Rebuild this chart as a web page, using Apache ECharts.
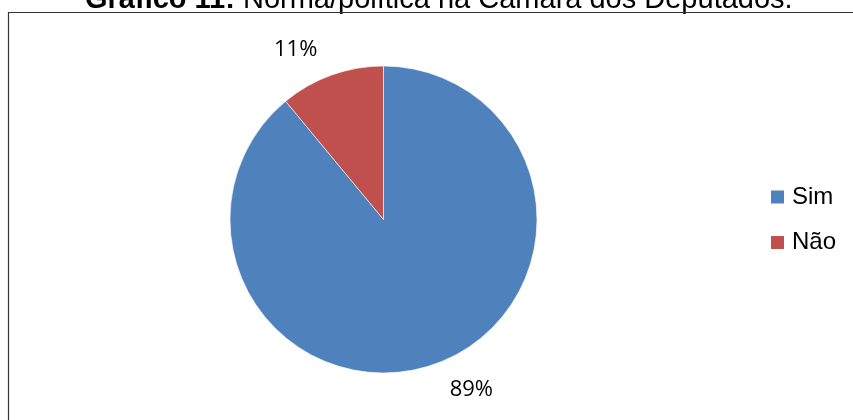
<!DOCTYPE html>
<html>
<head>
<meta charset="utf-8">
<script src="https://cdn.jsdelivr.net/npm/echarts@6/dist/echarts.min.js"></script>
<style>html,body{margin:0;padding:0;background:#fff;}#c{width:853px;height:420px;}</style>
</head>
<body>
<div id="c"></div>
<script>
const categories = ['Sim', 'Não'];
const values = [89, 11];
const colors = ['#4F81BD', '#C0504D'];

const chart = echarts.init(document.getElementById('c'));
chart.setOption({
  animation: false,
  backgroundColor: '#fff',
  title: {
    text: '{b|Gráfico 11:} Norma/política na Câmara dos Deputados.',
    left: 85,
    top: -15,
    padding: 0,
    textStyle: {
      fontFamily: 'Liberation Sans, Arial, sans-serif',
      fontSize: 29,
      fontWeight: 'normal',
      color: '#000',
      lineHeight: 29,
      rich: {
        b: { fontFamily: 'Liberation Sans, Arial, sans-serif', fontSize: 29, fontWeight: 'bold', color: '#000', lineHeight: 29 }
      }
    }
  },
  graphic: [{
    type: 'rect',
    shape: { x: 8.5, y: 12.5, width: 900, height: 500 },
    style: { fill: 'none', stroke: '#333', lineWidth: 1.2 },
    silent: true,
    z: 100
  }],
  legend: {
    orient: 'vertical',
    left: 771,
    top: 185,
    padding: 0,
    itemWidth: 13,
    itemHeight: 13,
    itemGap: 21.5,
    icon: 'rect',
    itemStyle: { borderWidth: 0 },
    textStyle: { fontFamily: 'Liberation Sans, Arial, sans-serif', fontSize: 24, color: '#000', padding: [0, 0, 0, 3] },
    data: categories
  },
  series: [{
    type: 'pie',
    center: [383.5, 219.5],
    radius: 153.5,
    startAngle: 90,
    clockwise: true,
    avoidLabelOverlap: false,
    itemStyle: { borderColor: '#fff', borderWidth: 0.6 },
    label: {
      show: true,
      position: 'outside',
      formatter: '{d}%',
      fontFamily: 'Open Sans, Noto Sans, sans-serif',
      fontSize: 22,
      color: '#000',
      padding: [6, 0, 0, 0],
      distanceToLabelLine: 5
    },
    labelLine: { show: false, length: 27, length2: 0 },
    emphasis: { disabled: true },
    data: categories.map((n, i) => ({ name: n, value: values[i], itemStyle: { color: colors[i] } }))
  }]
});
</script>
</body>
</html>
